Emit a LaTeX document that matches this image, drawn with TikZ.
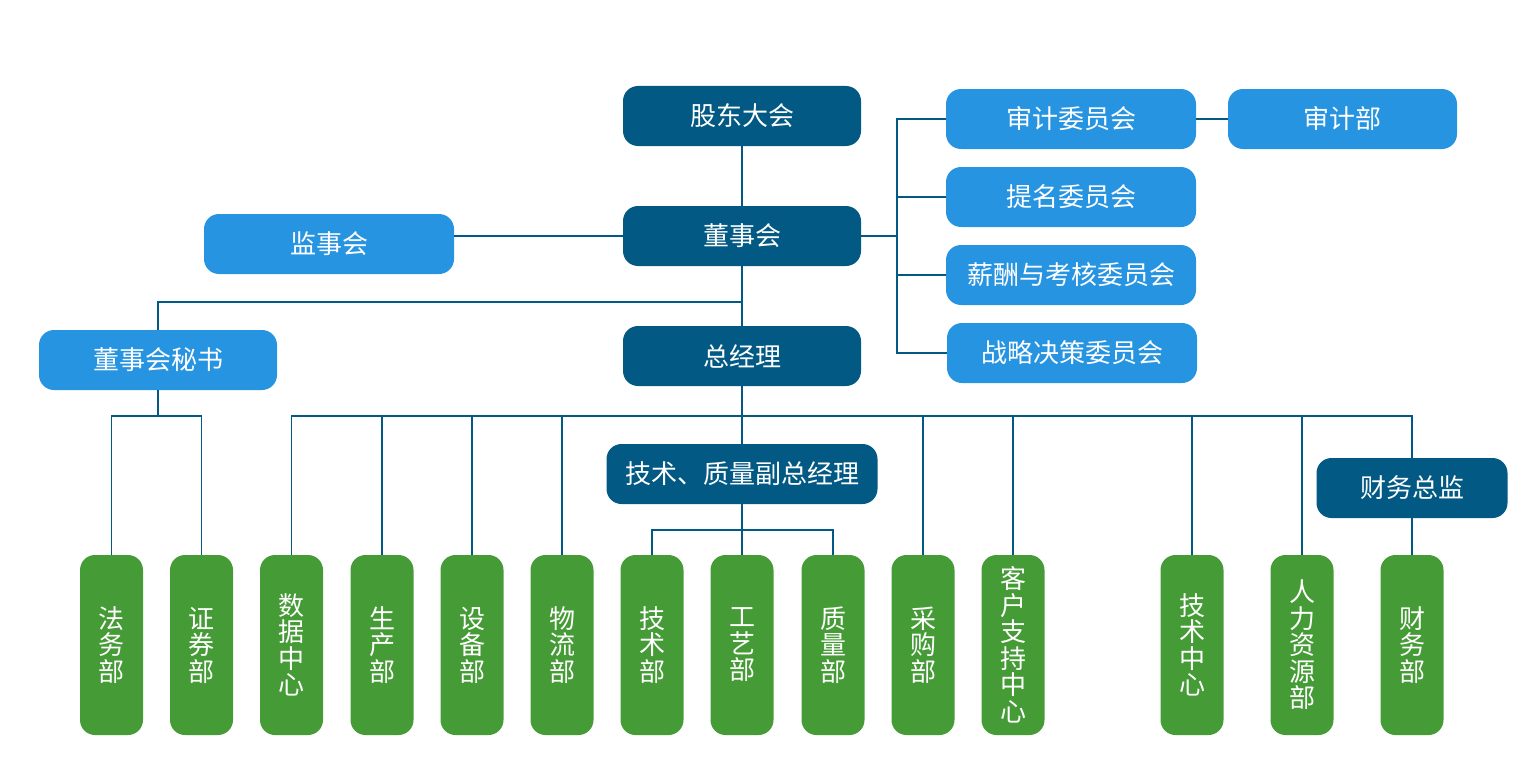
\documentclass[tikz,border=0pt]{standalone}
\usepackage{fontspec}
\newfontfamily\cjk{Noto Sans CJK SC}
\definecolor{dblue}{HTML}{025983}
\definecolor{lblue}{HTML}{2794E2}
\definecolor{gbox}{HTML}{459B35}
\begin{document}
\begin{tikzpicture}[x=1pt,y=-1pt,
  base/.style={rounded corners=15pt,text=white,inner sep=0pt,font=\cjk\fontsize{26}{26.5}\selectfont,align=center},
  dbox/.style={base,fill=dblue,minimum width=238pt,minimum height=60pt},
  lbox/.style={base,fill=lblue,minimum width=250pt,minimum height=60pt},
  gnode/.style={base,fill=gbox,minimum width=63pt,minimum height=180pt},
  conn/.style={draw=dblue,line width=1.2pt}]
\useasboundingbox (0,0) rectangle (1537,776);
% top levels
\node[dbox] (gd) at (742,116) {股东大会};
\node[dbox] (dsh) at (742,236) {董事会};
\node[lbox] (jsh) at (329,244) {监事会};
\node[dbox] (zjl) at (742,356) {总经理};
\node[lbox,minimum width=238pt] (ms) at (158,360) {董事会秘书};
\node[lbox] (sj) at (1071,119) {审计委员会};
\node[lbox] (tm) at (1071,197) {提名委员会};
\node[lbox] (xc) at (1071,275) {薪酬与考核委员会};
\node[lbox] (zl) at (1072,353) {战略决策委员会};
\node[lbox,minimum width=229pt] (sjb) at (1342.5,119) {审计部};
\node[dbox,minimum width=271pt] (fz) at (742,474) {技术、质量副总经理};
\node[dbox,minimum width=191pt] (cj) at (1412,488) {财务总监};
% green departments
\node[gnode] (fw) at (111.5,645) {法\\务\\部};
\node[gnode] (zq) at (201.5,645) {证\\券\\部};
\node[gnode] (sjzx) at (291.5,645) {数\\据\\中\\心};
\node[gnode] (sc) at (382,645) {生\\产\\部};
\node[gnode] (sb) at (472,645) {设\\备\\部};
\node[gnode] (wl) at (562,645) {物\\流\\部};
\node[gnode] (js) at (652,645) {技\\术\\部};
\node[gnode] (gy) at (742,645) {工\\艺\\部};
\node[gnode] (zlb) at (833,645) {质\\量\\部};
\node[gnode] (cg) at (923,645) {采\\购\\部};
\node[gnode] (kh) at (1013,645) {客\\户\\支\\持\\中\\心};
\node[gnode] (jszx) at (1192,645) {技\\术\\中\\心};
\node[gnode] (rl) at (1302,645) {人\\力\\资\\源\\部};
\node[gnode] (cw) at (1412,645) {财\\务\\部};
% junction coordinates
\coordinate (b1) at (742,302);
\coordinate (cb) at (897,236);
\coordinate (bus) at (742,416);
\coordinate (b2) at (158,416);
\coordinate (b3) at (742,530);
% connectors
\draw[conn] (gd) -- (dsh);
\draw[conn] (dsh.west) -- (dsh.west -| jsh.east);
\draw[conn] (dsh.south) -- (zjl.north);
\draw[conn] (b1) -| (ms.north);
\draw[conn] (dsh.east) -- (cb);
\draw[conn] (sj.west) -| (cb) |- (zl.west);
\draw[conn] (cb |- tm.west) -- (tm.west);
\draw[conn] (cb |- xc.west) -- (xc.west);
\draw[conn] (sj.east) -- (sj.east -| sjb.west);
\draw[conn] (zjl.south) -- (fz.north);
\draw[conn] (ms.south) -- (b2);
\draw[conn] (fw.north) |- (b2) -| (zq.north);
\draw[conn] (sjzx.north) |- (bus) -| (cj.north);
\foreach \n in {sc,sb,wl,cg,kh,jszx,rl}
  \draw[conn] (\n.north) -- (\n.north |- bus);
\draw[conn] (fz.south) -- (gy.north);
\draw[conn] (js.north) |- (b3) -| (zlb.north);
\draw[conn] (cj.south) -- (cw.north);
\end{tikzpicture}
\end{document}
